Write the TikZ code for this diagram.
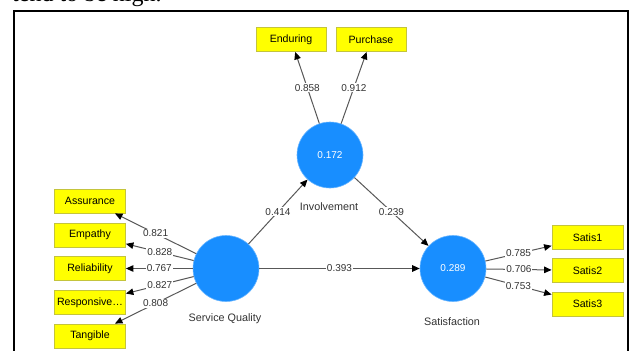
\documentclass[tikz,border=0pt]{standalone}
\usepackage{fontspec}
\setmainfont{Liberation Sans}
\newfontfamily\leadserif{Liberation Serif}
\usetikzlibrary{arrows.meta,positioning}
\definecolor{lvblue}{RGB}{24,142,255}
\definecolor{indfill}{RGB}{255,255,0}
\definecolor{indedge}{RGB}{196,196,60}
\definecolor{pathgrey}{RGB}{88,88,88}
\tikzset{
  lv/.style={circle,fill=lvblue,draw=lvblue!65!white,line width=.6pt,minimum size=66pt,inner sep=0pt,text=white,font=\fontsize{10}{12}\selectfont},
  ind/.style={rectangle,fill=indfill,draw=indedge,line width=.8pt,minimum width=71pt,minimum height=24pt,inner sep=0pt,font=\fontsize{10.6}{12}\selectfont},
  lvcap/.style={font=\fontsize{10.8}{12}\selectfont,text=black!80},
  wt/.style={fill=white,inner sep=1pt,font=\fontsize{10}{12}\selectfont,text=black!80},
  pth/.style={draw=pathgrey,line width=1pt,-{Triangle[length=7.5pt,width=6.5pt,color=black]}},
}
\begin{document}
\begin{tikzpicture}[x=1pt,y=-1pt]
\useasboundingbox (0,0) rectangle (633,351);
\clip (0,0) rectangle (633,351);
\fill[white] (0,0) rectangle (633,351);
% ---------- running text and frame ----------
\node[anchor=base west,inner sep=0pt,font=\leadserif\fontsize{24}{28}\selectfont] (lead) at (12,1.5) {tend to be high.};
\draw[line width=2pt] (14,352) -- (14,11) -- (628,11) -- (628,352);
% ---------- latent variables ----------
\node[lv] (SQ)  at (226,268.5) {};
\node[lv] (Inv) at (330,155) {0.172};
\node[lv] (Sat) at (453,268.5) {0.289};
\node[lvcap] (SQl)  at (225,319) {Service Quality};
\node[lvcap] (Invl) at (329,207) {Involvement};
\node[lvcap] (Satl) at (452,322) {Satisfaction};
% ---------- indicators ----------
\foreach \nm/\txt/\y in {As/Assurance/201,Em/Empathy/235,Re/Reliability/268.5,Rs/Responsive\ldots/302.5,Ta/Tangible/336}
  \node[ind] (\nm) at (90,\y) {\txt};
\node[ind,minimum width=70pt] (En) at (291,39.5) {Enduring};
\node[ind,minimum width=70pt] (Pu) at (371,39.5) {Purchase};
\foreach \nm/\txt/\y in {S1/Satis1/237.5,S2/Satis2/270.5,S3/Satis3/304}
  \node[ind] (\nm) at (587.5,\y) {\txt};
% ---------- outer loadings ----------
\foreach \nm/\w in {As/0.821,Em/0.828,Re/0.767,Rs/0.827,Ta/0.808}
  \draw[pth] (SQ) -- node[wt]{\w} (\nm);
\draw[pth] (Inv) -- node[wt]{0.858} (En);
\draw[pth] (Inv) -- node[wt]{0.912} (Pu);
\foreach \nm/\w in {S1/0.785,S2/0.706,S3/0.753}
  \draw[pth] (Sat) -- node[wt]{\w} (\nm);
% ---------- path coefficients ----------
\draw[pth] (SQ) -- node[wt]{0.414} (Inv);
\draw[pth] (Inv) -- node[wt]{0.239} (Sat);
\draw[pth] (SQ) -- node[wt]{0.393} (Sat);
\end{tikzpicture}
\end{document}
